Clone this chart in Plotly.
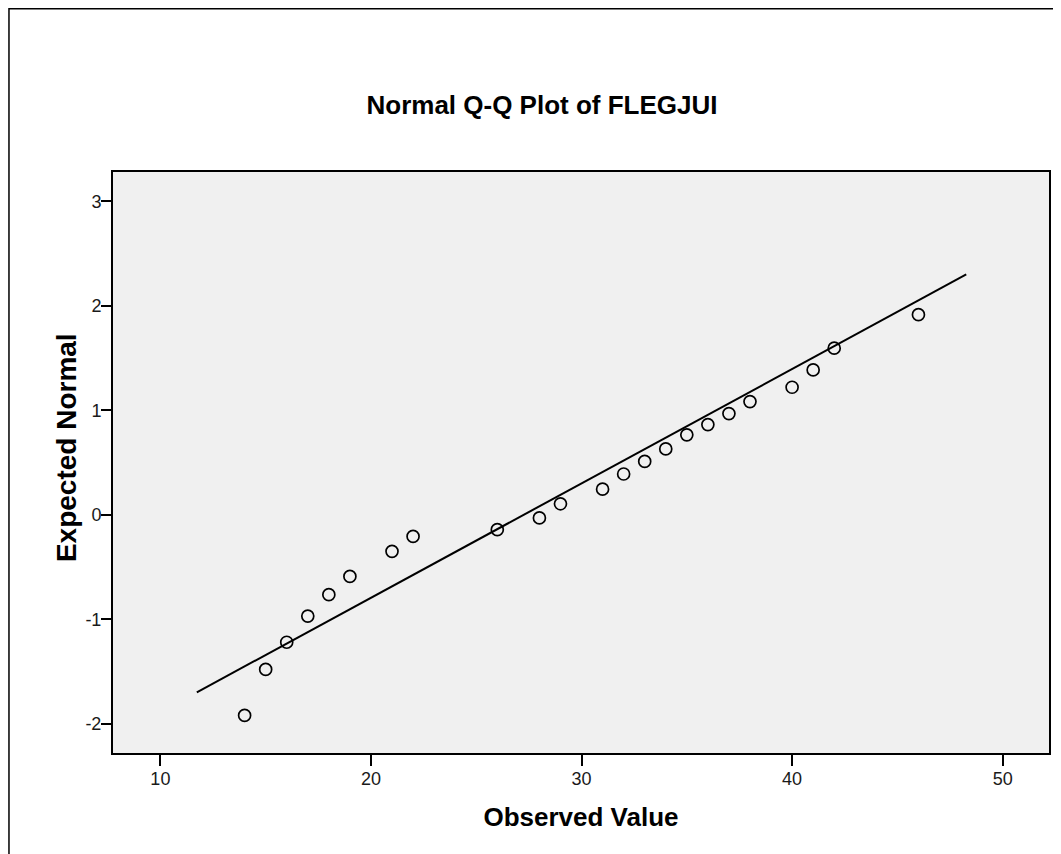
import plotly.graph_objects as go

# Observed values and their expected normal scores
observed = [14, 15, 16, 17, 18, 19, 21, 22, 26, 28, 29, 31, 32, 33, 34, 35, 36, 37, 38, 40, 41, 42, 46]
expected = [-1.92, -1.48, -1.22, -0.97, -0.765, -0.59, -0.35, -0.207, -0.143, -0.03, 0.105, 0.245,
            0.39, 0.51, 0.63, 0.765, 0.863, 0.968, 1.083, 1.22, 1.386, 1.594, 1.915]

# Reference line endpoints (observed, expected)
line_x = [11.73, 48.27]
line_y = [-1.70, 2.30]

x_ticks = [10, 20, 30, 40, 50]
y_ticks = [-2, -1, 0, 1, 2, 3]

FONT = "Liberation Sans, Arial, sans-serif"

fig = go.Figure()
fig.add_trace(go.Scatter(
    x=line_x, y=line_y, mode="lines",
    line=dict(color="black", width=2), hoverinfo="skip", showlegend=False))
fig.add_trace(go.Scatter(
    x=observed, y=expected, mode="markers",
    marker=dict(symbol="circle-open", size=12, color="black", line=dict(width=1.7)),
    showlegend=False))

# page body has an 8px margin; figure sized to fill the rest of the window
W, H = 1053, 846
L, R, T, B = 105, 10, 164, 101
pw, ph = W - L - R, H - T - B

def px_to_paper_x(px):
    return (px - L) / pw

def px_to_paper_y(py):
    return (H - B - py) / ph

fig.update_layout(
    width=W, height=H,
    margin=dict(l=L, r=R, t=T, b=B),
    paper_bgcolor="white",
    plot_bgcolor="#F0F0F0",
    font=dict(family=FONT, color="black"),
    title=dict(text="Normal Q-Q Plot of FLEGJUI",
               font=dict(family=FONT, size=26, color="black", weight="bold"),
               x=534 / W, xref="container", xanchor="center",
               y=1 - 97 / H, yref="container", yanchor="middle"),
    xaxis=dict(range=[7.75, 52.2], tickvals=x_ticks, ticktext=[str(v) for v in x_ticks],
               showgrid=False, zeroline=False,
               showline=True, linecolor="black", linewidth=2, mirror=True,
               ticks="outside", ticklen=11, tickwidth=2, tickcolor="black",
               ticklabelstandoff=-3,
               tickfont=dict(size=18, color="#1a1a1a"),
               title=dict(text="Observed Value", standoff=20,
                          font=dict(size=26, weight="bold", color="black"))),
    yaxis=dict(range=[-2.28, 3.28], tickvals=y_ticks, ticktext=[str(v) for v in y_ticks],
               showgrid=False, zeroline=False,
               showline=True, linecolor="black", linewidth=2, mirror=True,
               ticks="outside", ticklen=10, tickwidth=2, tickcolor="black",
               ticklabelstandoff=-4,
               tickfont=dict(size=18, color="#1a1a1a")),
    annotations=[dict(text="Expected Normal", textangle=-90, showarrow=False,
                      xref="paper", yref="paper",
                      x=px_to_paper_x(58), y=px_to_paper_y(440),
                      xanchor="center", yanchor="middle",
                      font=dict(family=FONT, size=28, weight="bold", color="black"))],
    shapes=[dict(type="rect", xref="paper", yref="paper",
                 x0=px_to_paper_x(0.75), x1=px_to_paper_x(W + 10),
                 y0=px_to_paper_y(H + 10), y1=px_to_paper_y(0.75),
                 line=dict(color="black", width=1.5), fillcolor="rgba(0,0,0,0)",
                 layer="below")],
)

fig.write_html("out.html")
